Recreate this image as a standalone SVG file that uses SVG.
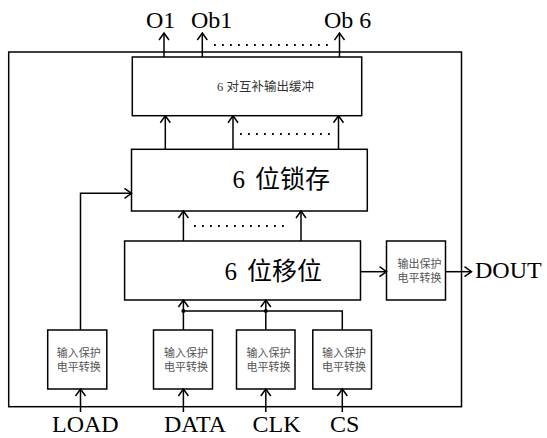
<svg xmlns="http://www.w3.org/2000/svg" width="547" height="438" viewBox="0 0 547 438">
<style>
rect{fill:none;stroke:#000;stroke-width:1.5}
.c path,.c line{fill:none;stroke:#000;stroke-width:1.5}
.ah{fill:none;stroke:#000;stroke-width:1.5}
.c line.dot{stroke-width:1.8;stroke-dasharray:1.8 6.2}
.lbl{font-family:"Liberation Serif","Noto Sans CJK SC",serif;font-size:24px;fill:#000}
.big{font-family:"Liberation Serif","Noto Sans CJK SC",serif;font-size:25px;fill:#000}
.mid{font-family:"Liberation Serif","Noto Sans CJK SC",serif;font-size:12.5px;fill:#333}
.sm{font-family:"Liberation Serif","Noto Sans CJK SC",serif;font-size:11px;fill:#555;text-anchor:middle}
</style>
<defs>
<marker id="arr" viewBox="0 0 10 12" refX="9" refY="6" markerWidth="10" markerHeight="12" markerUnits="userSpaceOnUse" orient="auto">
<path d="M2,1 L9,6 L2,11" class="ah"/>
</marker>
</defs>

<g id="outer"><rect x="8.7" y="52" width="452.8" height="354.7"/></g>

<g id="buffer">
<rect x="132.3" y="57" width="229.4" height="58.7"/>
<text class="mid" x="217" y="91">6 对互补输出缓冲</text>
</g>
<g id="latch">
<rect x="131.5" y="149.3" width="235.8" height="61.7"/>
<text class="big" x="232.5" y="188">6<tspan x="255">位锁存</tspan></text>
</g>
<g id="shift">
<rect x="124.6" y="241" width="235.9" height="59"/>
<text class="big" x="224.5" y="279.5">6<tspan x="247">位移位</tspan></text>
</g>
<g id="outprot">
<rect x="386.5" y="241" width="59" height="59"/>
<text class="sm" x="419.5" y="268">输出保护</text>
<text class="sm" x="419.5" y="281.7">电平转换</text>
</g>
<g id="in-load">
<rect x="47.7" y="330" width="59.1" height="59"/>
<text class="sm" x="78.7" y="357">输入保护</text>
<text class="sm" x="78.7" y="370.7">电平转换</text>
</g>
<g id="in-data">
<rect x="153.5" y="330" width="59" height="59"/>
<text class="sm" x="186" y="357">输入保护</text>
<text class="sm" x="186" y="370.7">电平转换</text>
</g>
<g id="in-clk">
<rect x="236.5" y="330" width="58.5" height="59"/>
<text class="sm" x="268.5" y="357">输入保护</text>
<text class="sm" x="268.5" y="370.7">电平转换</text>
</g>
<g id="in-cs">
<rect x="312.8" y="330" width="58.7" height="59"/>
<text class="sm" x="344" y="357">输入保护</text>
<text class="sm" x="344" y="370.7">电平转换</text>
</g>

<g id="connectors" class="c">
<line x1="164" y1="57" x2="164" y2="33" marker-end="url(#arr)"/>
<line x1="202.3" y1="57" x2="202.3" y2="33" marker-end="url(#arr)"/>
<line x1="339.5" y1="57" x2="339.5" y2="33" marker-end="url(#arr)"/>
<line x1="165.3" y1="149.3" x2="165.3" y2="115.7" marker-end="url(#arr)"/>
<line x1="233" y1="149.3" x2="233" y2="115.7" marker-end="url(#arr)"/>
<line x1="338.5" y1="149.3" x2="338.5" y2="115.7" marker-end="url(#arr)"/>
<line x1="183.4" y1="241" x2="183.4" y2="211" marker-end="url(#arr)"/>
<line x1="301" y1="241" x2="301" y2="211" marker-end="url(#arr)"/>
<line x1="360.5" y1="271.7" x2="386.5" y2="271.7" marker-end="url(#arr)"/>
<line x1="445.5" y1="271.7" x2="471.5" y2="271.7" marker-end="url(#arr)"/>
<path d="M80.5,330 V193.3 H131.5" marker-end="url(#arr)"/>
<line x1="183.4" y1="330" x2="183.4" y2="300" marker-end="url(#arr)"/>
<line x1="265.8" y1="330" x2="265.8" y2="300" marker-end="url(#arr)"/>
<path d="M183.4,311 H342.3 V330"/>
<circle cx="183.4" cy="311" r="2" fill="#000" stroke="none"/>
<circle cx="265.8" cy="311" r="2" fill="#000" stroke="none"/>
<line x1="80.5" y1="412" x2="80.5" y2="389" marker-end="url(#arr)"/>
<line x1="183.4" y1="412" x2="183.4" y2="389" marker-end="url(#arr)"/>
<line x1="265.8" y1="412" x2="265.8" y2="389" marker-end="url(#arr)"/>
<line x1="342.3" y1="412" x2="342.3" y2="389" marker-end="url(#arr)"/>
<line class="dot" x1="214" y1="45" x2="328" y2="45"/>
<line class="dot" x1="240" y1="134" x2="332" y2="134"/>
<line class="dot" x1="194" y1="226" x2="287" y2="226"/>
</g>

<g id="labels">
<text class="lbl" x="146" y="28">O1</text>
<text class="lbl" x="191" y="28">Ob1</text>
<text class="lbl" x="324" y="28">Ob 6</text>
<text class="lbl" x="475" y="278">DOUT</text>
<text class="lbl" x="52" y="432">LOAD</text>
<text class="lbl" x="164" y="432">DATA</text>
<text class="lbl" x="252.5" y="432">CLK</text>
<text class="lbl" x="330" y="432">CS</text>
</g>
</svg>
